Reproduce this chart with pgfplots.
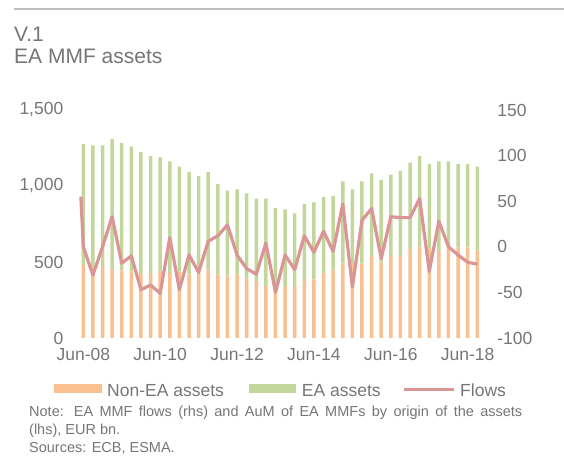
\documentclass[border=0pt]{standalone}
\usepackage{pgfplots}
\usepackage{pgfplotstable}
\pgfplotsset{compat=1.18}
\usepackage{fontspec}
\setmainfont{Liberation Sans}
\definecolor{txt}{RGB}{118,118,118}
\definecolor{rulegray}{RGB}{190,190,190}
\definecolor{orangec}{HTML}{FAC090}
\definecolor{greenc}{HTML}{C3D69B}
\definecolor{flowc}{HTML}{D99694}

\pgfplotstableread{
x ne ea
0 480 795
1 469 799
2 474 794
3 452 856
4 445 839
5 439 820
6 421 802
7 421 776
8 443 745
9 429 733
10 436 691
11 418 674
12 421 644
13 452 640
14 418 595
15 410 559
16 418 560
17 392 559
18 375 542
19 342 575
20 338 517
21 342 504
22 342 478
23 375 506
24 386 506
25 425 501
26 445 489
27 489 542
28 492 486
29 489 542
30 541 542
31 496 544
32 541 533
33 541 559
34 584 569
35 601 596
36 590 555
37 574 588
38 588 574
39 597 548
40 597 548
41 577 550
}\assets

\begin{document}
\begin{tikzpicture}
\useasboundingbox (0,0) rectangle (564bp,457bp);
\draw[color=rulegray, line width=1.5bp] (14bp,448bp) -- (564bp,448bp);
\node[anchor=base west, inner sep=0pt, text=txt, font=\fontsize{21bp}{25bp}\selectfont] at (14bp,415bp) {V.1};
\node[anchor=base west, inner sep=0pt, text=txt, font=\fontsize{21bp}{25bp}\selectfont] at (14bp,393.7bp) {EA MMF assets};

\begin{axis}[
  at={(78.5bp,119bp)}, anchor=south west, scale only axis,
  width=403.6bp, height=228bp,
  xmin=-0.5, xmax=41.5, ymin=0, ymax=1500,
  ytick={0,500,1000,1500},
  xtick={0,8,16,24,32,40},
  xticklabels={Jun-08,Jun-10,Jun-12,Jun-14,Jun-16,Jun-18},
  axis line style={draw=none}, major tick length=0pt,
  ybar stacked, bar width=3.5bp,
  ticklabel style={font=\fontsize{17.5bp}{21bp}\selectfont, text=txt},
  yticklabel style={inner sep=0pt, anchor=east, xshift=-15bp},
  xticklabel style={inner sep=0pt, anchor=north, yshift=-10bp},
  /pgf/number format/1000 sep={,},
  /pgf/number format/assume math mode=true,
]
\addplot[fill=orangec, draw=none] table[x=x, y=ne] {\assets};
\addplot[fill=greenc, draw=none] table[x=x, y=ea] {\assets};
\end{axis}

\begin{axis}[
  at={(78.5bp,119bp)}, anchor=south west, scale only axis,
  width=403.6bp, height=228bp,
  xmin=-0.5, xmax=41.5, ymin=-100, ymax=150,
  ytick={-100,-50,0,50,100,150},
  hide x axis, yticklabel pos=right,
  axis line style={draw=none}, major tick length=0pt,
  ticklabel style={font=\fontsize{17.5bp}{21bp}\selectfont, text=txt},
  yticklabel style={inner sep=0pt, anchor=west, xshift=15bp},
  /pgf/number format/assume math mode=true,
]
\addplot[color=flowc, line width=3.2bp, line join=round, mark=none] coordinates {
(-0.25,55) (0,0) (1,-31) (2,0) (3,33) (4,-18) (5,-10) (6,-47) (7,-42) (8,-51)
(9,10) (10,-47) (11,-9) (12,-28) (13,6) (14,12) (15,24) (16,-9) (17,-24) (18,-30)
(19,4) (20,-50) (21,-9) (22,-25) (23,12) (24,-6) (25,17) (26,-5) (27,47) (28,-44)
(29,29) (30,42) (31,-13) (32,33) (33,32) (34,32) (35,53) (36,-27) (37,28) (38,0)
(39,-9) (40,-17) (41,-19)
};
\end{axis}

% legend
\fill[orangec] (54bp,63.7bp) rectangle (101.7bp,73bp);
\node[anchor=west, inner sep=0pt, text=txt, font=\fontsize{17.5bp}{21bp}\selectfont] at (107bp,66.3bp) {Non-EA assets};
\fill[greenc] (248.7bp,63.7bp) rectangle (296bp,73bp);
\node[anchor=west, inner sep=0pt, text=txt, font=\fontsize{17.5bp}{21bp}\selectfont] at (301.7bp,66.3bp) {EA assets};
\draw[flowc, line width=3.2bp] (404bp,67.7bp) -- (454bp,67.7bp);
\node[anchor=west, inner sep=0pt, text=txt, font=\fontsize{17.5bp}{21bp}\selectfont] at (460bp,66.3bp) {Flows};

% notes
\node[anchor=base west, inner sep=0pt, text=txt, font=\fontsize{14.5bp}{18bp}\selectfont] at (29bp,40.1bp) {\makebox[493bp][s]{Note: EA MMF flows (rhs) and AuM of EA MMFs by origin of the assets}};
\node[anchor=base west, inner sep=0pt, text=txt, font=\fontsize{14.5bp}{18bp}\selectfont] at (29bp,22.5bp) {(lhs), EUR bn.};
\node[anchor=base west, inner sep=0pt, text=txt, font=\fontsize{14.5bp}{18bp}\selectfont] at (29bp,4.5bp) {Sources: ECB, ESMA.};
\end{tikzpicture}
\end{document}
